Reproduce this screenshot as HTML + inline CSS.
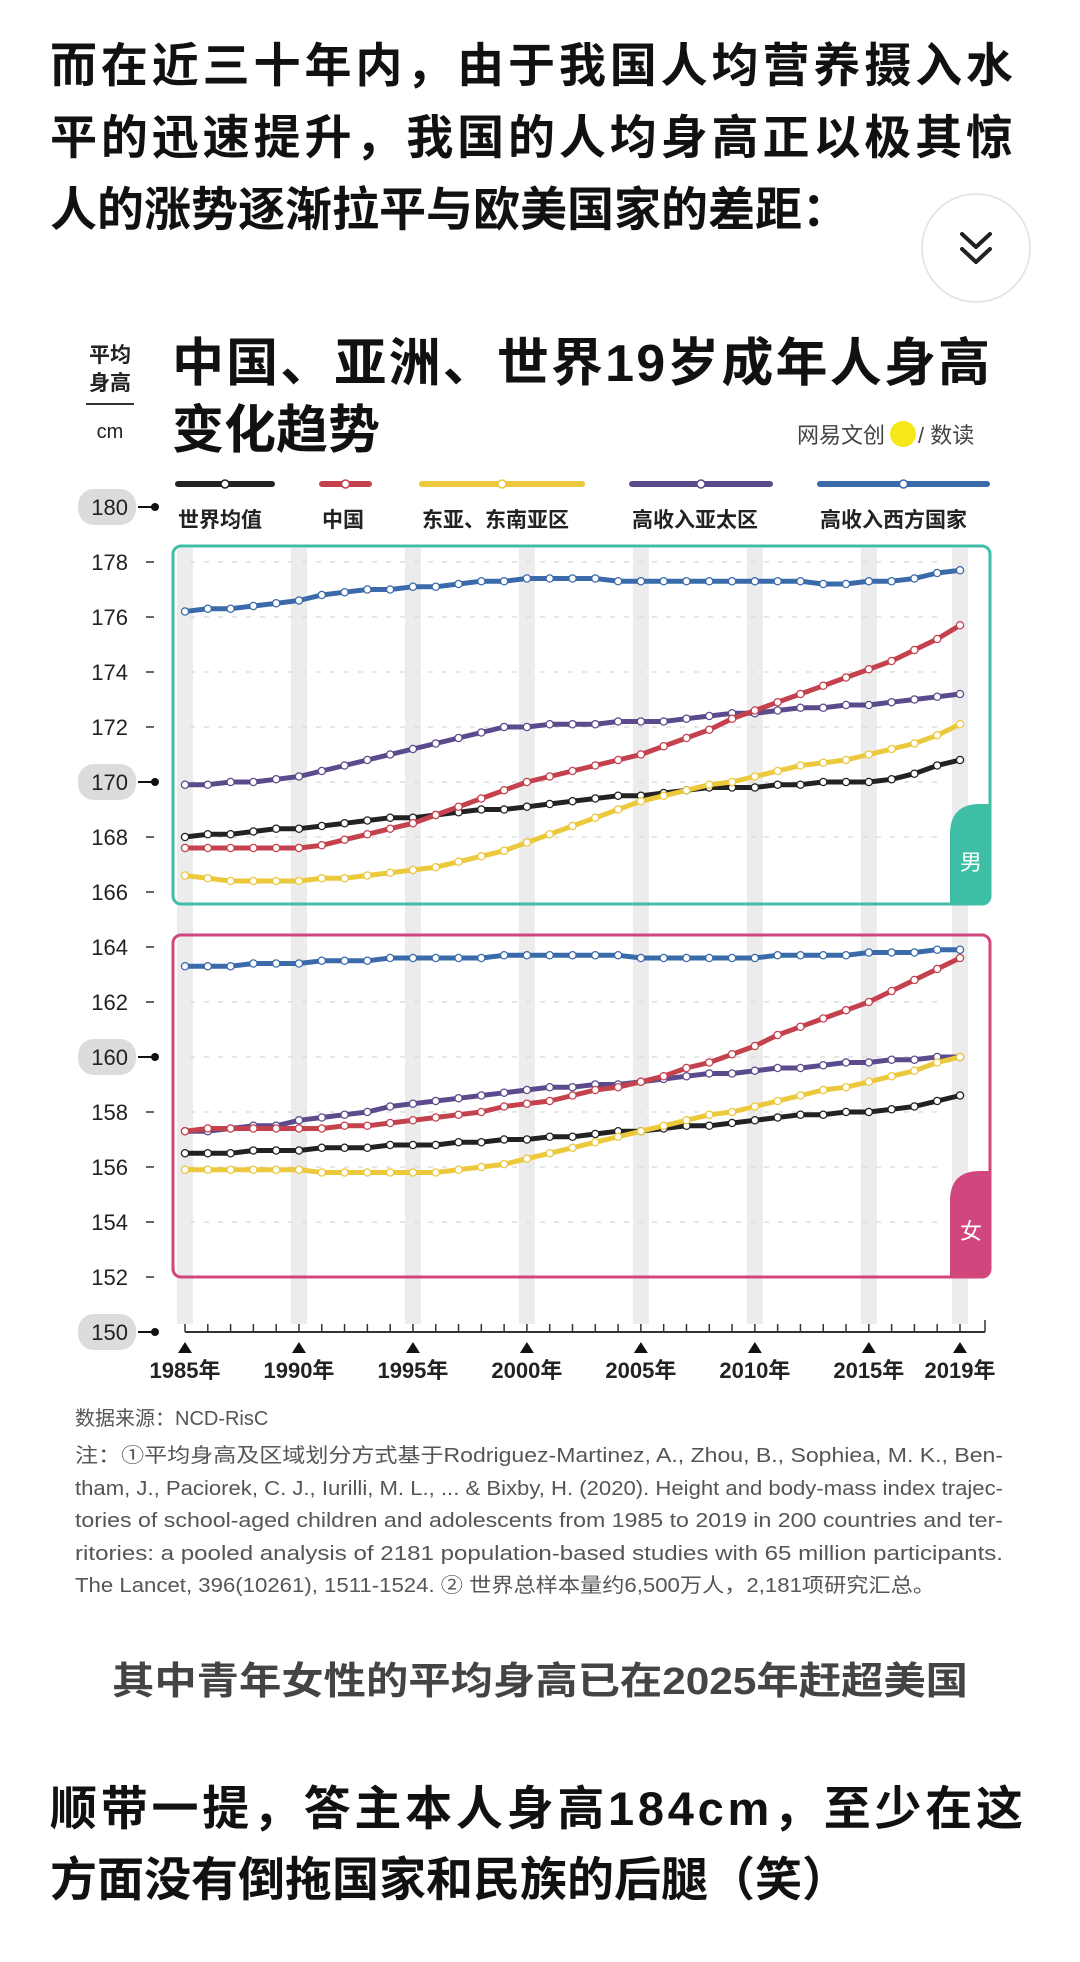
<!DOCTYPE html>
<html><head><meta charset="utf-8"><style>
html,body{margin:0;padding:0;background:#fff;width:1080px;height:1962px;overflow:hidden}
svg{display:block}
text{font-family:"Liberation Sans","Noto Sans CJK SC",sans-serif}
</style></head><body>
<svg id="s" width="1080" height="1962" viewBox="0 0 1080 1962" xmlns="http://www.w3.org/2000/svg">
<g font-weight="bold" font-size="47" fill="#111">
<text x="50" y="82" textLength="963" lengthAdjust="spacing">而在近三十年内，由于我国人均营养摄入水</text>
<text x="50" y="154" textLength="963" lengthAdjust="spacing">平的迅速提升，我国的人均身高正以极其惊</text>
<text x="50" y="226">人的涨势逐渐拉平与欧美国家的差距：</text>
</g>
<g>
<circle cx="976" cy="248" r="54" fill="#fff" stroke="#e6e6e6" stroke-width="2"/>
<path d="M962 234 L976 247 L990 234 M962 249 L976 262 L990 249" fill="none" stroke="#222" stroke-width="4" stroke-linecap="round" stroke-linejoin="round"/>
</g>
<g fill="#222" font-weight="bold">
<text x="110" y="362" font-size="21" text-anchor="middle">平均</text>
<text x="110" y="390" font-size="21" text-anchor="middle">身高</text>
<line x1="86" y1="404" x2="134" y2="404" stroke="#333" stroke-width="2"/>
<text x="110" y="438" font-size="20" text-anchor="middle" font-weight="normal">cm</text>
</g>
<g font-weight="bold" font-size="52" fill="#111">
<text x="172" y="381" textLength="818" lengthAdjust="spacing">中国、亚洲、世界19岁成年人身高</text>
<text x="172" y="448">变化趋势</text>
</g>
<g>
<circle cx="903" cy="434" r="13" fill="#f5e71a"/>
<text x="797" y="443" font-size="22" fill="#444">网易文创</text>
<text x="918" y="443" font-size="22" fill="#444">/ 数读</text>
</g>
<g id="legend"></g>
<g id="chart"></g>
<g fill="#555" font-size="20">
<text x="75" y="1425">数据来源：NCD-RisC</text>
<text x="75" y="1462" textLength="928" lengthAdjust="spacingAndGlyphs">注：①平均身高及区域划分方式基于Rodriguez-Martinez, A., Zhou, B., Sophiea, M. K., Ben-</text>
<text x="75" y="1495" textLength="928" lengthAdjust="spacingAndGlyphs">tham, J., Paciorek, C. J., Iurilli, M. L., ... &amp; Bixby, H. (2020). Height and body-mass index trajec-</text>
<text x="75" y="1527" textLength="928" lengthAdjust="spacingAndGlyphs">tories of school-aged children and adolescents from 1985 to 2019 in 200 countries and ter-</text>
<text x="75" y="1560" textLength="928" lengthAdjust="spacingAndGlyphs">ritories: a pooled analysis of 2181 population-based studies with 65 million participants.</text>
<text x="75" y="1592" textLength="860" lengthAdjust="spacingAndGlyphs">The Lancet, 396(10261), 1511-1524. ② 世界总样本量约6,500万人，2,181项研究汇总。</text>
</g>
<text x="112" y="1694" font-size="38" font-weight="bold" fill="#444" textLength="856" lengthAdjust="spacingAndGlyphs">其中青年女性的平均身高已在2025年赶超美国</text>
<g font-weight="bold" font-size="47" fill="#111">
<text x="50" y="1825" textLength="973" lengthAdjust="spacing">顺带一提，答主本人身高184cm，至少在这</text>
<text x="50" y="1896">方面没有倒拖国家和民族的后腿（笑）</text>
</g>
</svg>
<script>
const years=[1985,1986,1987,1988,1989,1990,1991,1992,1993,1994,1995,1996,1997,1998,1999,2000,2001,2002,2003,2004,2005,2006,2007,2008,2009,2010,2011,2012,2013,2014,2015,2016,2017,2018,2019];
const seriesNames=['世界均值','中国','东亚、东南亚区','高收入亚太区','高收入西方国家'];
const maleWorld=[168.0,168.1,168.1,168.2,168.3,168.3,168.4,168.5,168.6,168.7,168.7,168.8,168.9,169.0,169.0,169.1,169.2,169.3,169.4,169.5,169.5,169.6,169.7,169.8,169.8,169.8,169.9,169.9,170.0,170.0,170.0,170.1,170.3,170.6,170.8];
const maleChina=[167.6,167.6,167.6,167.6,167.6,167.6,167.7,167.9,168.1,168.3,168.5,168.8,169.1,169.4,169.7,170.0,170.2,170.4,170.6,170.8,171.0,171.3,171.6,171.9,172.3,172.6,172.9,173.2,173.5,173.8,174.1,174.4,174.8,175.2,175.7];
const maleEastAsia=[166.6,166.5,166.4,166.4,166.4,166.4,166.5,166.5,166.6,166.7,166.8,166.9,167.1,167.3,167.5,167.8,168.1,168.4,168.7,169.0,169.3,169.5,169.7,169.9,170.0,170.2,170.4,170.6,170.7,170.8,171.0,171.2,171.4,171.7,172.1];
const maleHiAsia=[169.9,169.9,170.0,170.0,170.1,170.2,170.4,170.6,170.8,171.0,171.2,171.4,171.6,171.8,172.0,172.0,172.1,172.1,172.1,172.2,172.2,172.2,172.3,172.4,172.5,172.5,172.6,172.7,172.7,172.8,172.8,172.9,173.0,173.1,173.2];
const maleWest=[176.2,176.3,176.3,176.4,176.5,176.6,176.8,176.9,177.0,177.0,177.1,177.1,177.2,177.3,177.3,177.4,177.4,177.4,177.4,177.3,177.3,177.3,177.3,177.3,177.3,177.3,177.3,177.3,177.2,177.2,177.3,177.3,177.4,177.6,177.7];
const femWorld=[156.5,156.5,156.5,156.6,156.6,156.6,156.7,156.7,156.7,156.8,156.8,156.8,156.9,156.9,157.0,157.0,157.1,157.1,157.2,157.3,157.3,157.4,157.5,157.5,157.6,157.7,157.8,157.9,157.9,158.0,158.0,158.1,158.2,158.4,158.6];
const femChina=[157.3,157.4,157.4,157.4,157.4,157.4,157.4,157.5,157.5,157.6,157.7,157.8,157.9,158.0,158.2,158.3,158.4,158.6,158.8,158.9,159.1,159.3,159.6,159.8,160.1,160.4,160.8,161.1,161.4,161.7,162.0,162.4,162.8,163.2,163.6];
const femEastAsia=[155.9,155.9,155.9,155.9,155.9,155.9,155.8,155.8,155.8,155.8,155.8,155.8,155.9,156.0,156.1,156.3,156.5,156.7,156.9,157.1,157.3,157.5,157.7,157.9,158.0,158.2,158.4,158.6,158.8,158.9,159.1,159.3,159.5,159.8,160.0];
const femHiAsia=[157.3,157.3,157.4,157.5,157.5,157.7,157.8,157.9,158.0,158.2,158.3,158.4,158.5,158.6,158.7,158.8,158.9,158.9,159.0,159.0,159.1,159.2,159.3,159.4,159.4,159.5,159.6,159.6,159.7,159.8,159.8,159.9,159.9,160.0,160.0];
const femWest=[163.3,163.3,163.3,163.4,163.4,163.4,163.5,163.5,163.5,163.6,163.6,163.6,163.6,163.6,163.7,163.7,163.7,163.7,163.7,163.7,163.6,163.6,163.6,163.6,163.6,163.6,163.7,163.7,163.7,163.7,163.8,163.8,163.8,163.9,163.9];
const yTicks=[150,152,154,156,158,160,162,164,166,168,170,172,174,176,178,180];
const xLabelYears=[1985,1990,1995,2000,2005,2010,2015,2019];

const NS='http://www.w3.org/2000/svg';
const colors=['#222222','#c4424e','#ecc83c','#5b4b8c','#3a6aaa'];
const xS=y=>185+(y-1985)*(960-185)/34;
const yS=v=>1332-(v-150)*27.5;
function mk(tag,attrs,parent){const e=document.createElementNS(NS,tag);for(const k in attrs)e.setAttribute(k,attrs[k]);parent.appendChild(e);return e;}
const chart=document.getElementById('chart');
const legend=document.getElementById('legend');

const legX=[[178,272],[322,369],[422,582],[632,770],[820,987]];
seriesNames.forEach((n,i)=>{
  const g=mk('g',{},legend);
  
  
  mk('line',{x1:legX[i][0],y1:484,x2:legX[i][1],y2:484,stroke:colors[i],'stroke-width':6,'stroke-linecap':'round'},g);
  mk('circle',{cx:(legX[i][0]+legX[i][1])/2,cy:484,r:4,fill:'#fff',stroke:colors[i],'stroke-width':1.5},g);
  const t=mk('text',{x:legX[i][0],y:527,'font-size':21,fill:'#222','font-weight':'bold'},g);t.textContent=n;
});

xLabelYears.forEach(y=>{
  const r=mk('rect',{x:xS(y)-8,y:548,width:16,height:776,fill:'#ececec'},chart);
  
  
});
yTicks.forEach(v=>{
  if(v===150||v===180||v===166||v===164||v===152)return;
  mk('line',{x1:190,y1:yS(v),x2:945,y2:yS(v),stroke:'#ddd','stroke-width':1.5,'stroke-dasharray':'5 9'},chart);
});
const male=mk('rect',{x:173,y:546,width:817,height:358,rx:8,fill:'none',stroke:'#3fbea6','stroke-width':3},chart);


const fem=mk('rect',{x:173,y:935,width:817,height:342,rx:8,fill:'none',stroke:'#d2467e','stroke-width':3},chart);


const mt=mk('path',{d:'M991 804 L991 896 Q991 905 982 905 L950 905 L950 834 Q950 804 980 804 Z',fill:'#3fbea6'},chart);


let t=mk('text',{x:971,y:870,'font-size':22,fill:'#fff','text-anchor':'middle'},chart);t.textContent='男';
const ft=mk('path',{d:'M991 1171 L991 1269 Q991 1278 982 1278 L950 1278 L950 1201 Q950 1171 980 1171 Z',fill:'#d2467e'},chart);


t=mk('text',{x:971,y:1239,'font-size':22,fill:'#fff','text-anchor':'middle'},chart);t.textContent='女';

yTicks.forEach(v=>{
  const y=yS(v);
  const big=(v%10===0);
  const g=mk('g',{},chart);
  
  
  if(big){
    mk('rect',{x:78,y:y-18,width:58,height:36,rx:16,fill:'#dcdcdc'},g);
    mk('line',{x1:138,y1:y,x2:152,y2:y,stroke:'#111','stroke-width':2},g);
    mk('circle',{cx:155,cy:y,r:4,fill:'#111'},g);
  } else {
    mk('line',{x1:146,y1:y,x2:154,y2:y,stroke:'#666','stroke-width':2},g);
  }
  const tx=mk('text',{x:128,y:y+8,'font-size':22,fill:'#222','text-anchor':'end'},g);tx.textContent=v;
});
mk('line',{x1:185,y1:1332,x2:985,y2:1332,stroke:'#333','stroke-width':2},chart);
years.forEach(y=>{mk('line',{x1:xS(y),y1:1324,x2:xS(y),y2:1332,stroke:'#333','stroke-width':1.5},chart);});
mk('line',{x1:985,y1:1320,x2:985,y2:1332,stroke:'#333','stroke-width':1.5},chart);
xLabelYears.forEach(y=>{
  const x=xS(y);
  const g=mk('g',{},chart);
  
  
  mk('path',{d:`M${x-7} 1353 L${x+7} 1353 L${x} 1342 Z`,fill:'#111'},g);
  const tx=mk('text',{x:x,y:1378,'font-size':22,'font-weight':'bold',fill:'#222','text-anchor':'middle'},g);tx.textContent=y+'年';
});

const male5=[maleWorld,maleChina,maleEastAsia,maleHiAsia,maleWest];
const fem5=[femWorld,femChina,femEastAsia,femHiAsia,femWest];
const order=[4,3,0,2,1];
function drawSet(set,label){
  order.forEach(i=>{
    const vals=set[i];
    const g=mk('g',{},chart);
    
    
    const pts=vals.map((v,k)=>xS(years[k]).toFixed(1)+','+yS(v).toFixed(1)).join(' ');
    mk('polyline',{points:pts,fill:'none',stroke:colors[i],'stroke-width':5,'stroke-linejoin':'round'},g);
    vals.forEach((v,k)=>{
      const c=mk('circle',{cx:xS(years[k]),cy:yS(v),r:3.6,fill:'#fff',stroke:colors[i],'stroke-width':1.3},g);
      
      
    });
  });
}
drawSet(male5,'male');
drawSet(fem5,'female');
</script>
</body></html>
